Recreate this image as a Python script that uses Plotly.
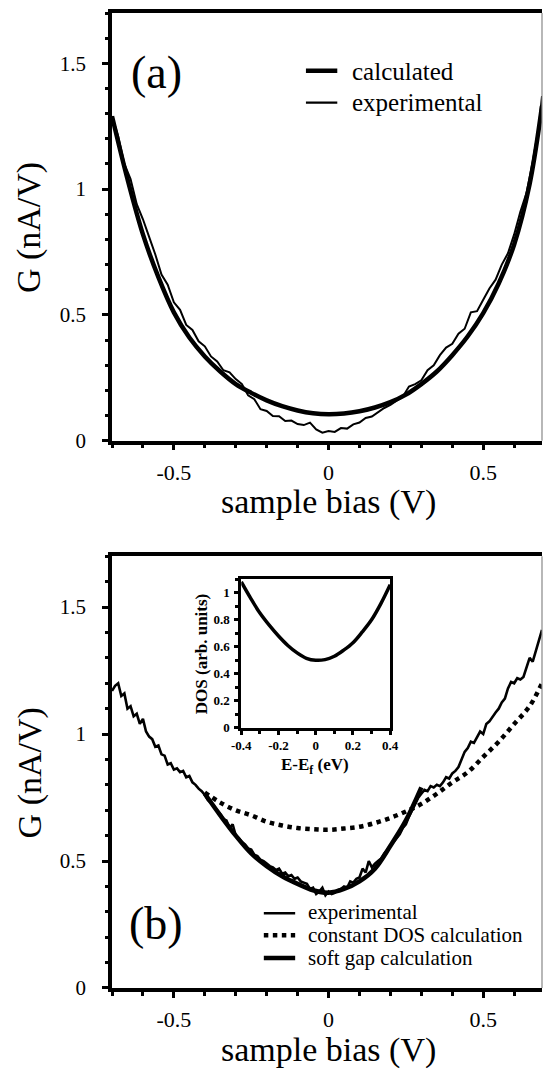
import plotly.graph_objects as go

# ---------------- data: panel (a) ----------------
bias_calc_a = [-0.70, -0.65, -0.60, -0.55, -0.50, -0.45, -0.40, -0.35, -0.30, -0.25,
               -0.20, -0.15, -0.10, -0.05, 0.00, 0.05, 0.10, 0.15, 0.20, 0.25,
               0.30, 0.35, 0.40, 0.45, 0.50, 0.55, 0.60, 0.65, 0.69]
g_calc_a = [1.29, 1.04, 0.82, 0.65, 0.51, 0.41, 0.335, 0.275, 0.225, 0.19,
            0.16, 0.137, 0.12, 0.109, 0.105, 0.108, 0.117, 0.132, 0.153, 0.183,
            0.225, 0.275, 0.34, 0.415, 0.507, 0.625, 0.78, 1.02, 1.33]

bias_exp_a = [-0.70, -0.68, -0.66, -0.64, -0.62, -0.60, -0.58, -0.56, -0.54, -0.52,
              -0.50, -0.48, -0.46, -0.44, -0.42, -0.40, -0.38, -0.36, -0.34, -0.32,
              -0.30, -0.28, -0.26, -0.24, -0.22, -0.20, -0.18, -0.16, -0.14, -0.12,
              -0.10, -0.08, -0.06, -0.04, -0.02, 0.00, 0.02, 0.04, 0.06, 0.08,
              0.10, 0.12, 0.14, 0.16, 0.18, 0.20, 0.22, 0.24, 0.26, 0.28,
              0.30, 0.32, 0.34, 0.36, 0.38, 0.40, 0.42, 0.44, 0.46, 0.48,
              0.50, 0.52, 0.54, 0.56, 0.58, 0.60, 0.62, 0.64, 0.66, 0.68, 0.69]
g_exp_a = [1.29, 1.21, 1.10, 1.04, 0.94, 0.88, 0.81, 0.74, 0.66, 0.62,
           0.55, 0.52, 0.46, 0.44, 0.395, 0.375, 0.335, 0.315, 0.28, 0.272,
           0.245, 0.225, 0.18, 0.165, 0.125, 0.118, 0.098, 0.097, 0.078, 0.080,
           0.066, 0.062, 0.072, 0.045, 0.032, 0.038, 0.035, 0.050, 0.048, 0.065,
           0.072, 0.090, 0.096, 0.112, 0.130, 0.142, 0.158, 0.175, 0.215, 0.225,
           0.240, 0.280, 0.300, 0.340, 0.370, 0.385, 0.425, 0.445, 0.510, 0.515,
           0.560, 0.605, 0.640, 0.700, 0.745, 0.820, 0.910, 0.985, 1.110, 1.250, 1.370]

# ---------------- data: panel (b) ----------------
bias_exp_b = [-0.70, -0.69, -0.68, -0.67, -0.66, -0.65, -0.64, -0.63, -0.62, -0.61,
              -0.60, -0.59, -0.58, -0.57, -0.56, -0.55, -0.54, -0.53, -0.52, -0.51,
              -0.50, -0.49, -0.48, -0.47, -0.46, -0.45, -0.44, -0.43, -0.42, -0.41,
              -0.40, -0.39, -0.38, -0.37, -0.36, -0.35, -0.34, -0.33, -0.32, -0.31,
              -0.30, -0.29, -0.28, -0.27, -0.26, -0.25, -0.24, -0.23, -0.22, -0.21,
              -0.20, -0.19, -0.18, -0.17, -0.16, -0.15, -0.14, -0.13, -0.12, -0.11,
              -0.10, -0.09, -0.08, -0.07, -0.06, -0.05, -0.04, -0.03, -0.02, -0.01,
              0.00, 0.01, 0.02, 0.03, 0.04, 0.05, 0.06, 0.07, 0.08, 0.09,
              0.10, 0.11, 0.12, 0.13, 0.14, 0.15, 0.16, 0.17, 0.18, 0.19,
              0.20, 0.21, 0.22, 0.23, 0.24, 0.25, 0.26, 0.27, 0.28, 0.29,
              0.30, 0.31, 0.32, 0.33, 0.34, 0.35, 0.36, 0.37, 0.38, 0.39,
              0.40, 0.41, 0.42, 0.43, 0.44, 0.45, 0.46, 0.47, 0.48, 0.49,
              0.50, 0.51, 0.52, 0.53, 0.54, 0.55, 0.56, 0.57, 0.58, 0.59,
              0.60, 0.61, 0.62, 0.63, 0.64, 0.65, 0.66, 0.67, 0.68, 0.69]
g_exp_b = [1.17, 1.19, 1.20, 1.15, 1.16, 1.10, 1.11, 1.07, 1.08, 1.04,
           1.06, 1.01, 0.99, 0.98, 0.95, 0.955, 0.92, 0.915, 0.88, 0.885,
           0.86, 0.865, 0.85, 0.855, 0.83, 0.835, 0.81, 0.80, 0.785, 0.775,
           0.76, 0.74, 0.73, 0.715, 0.70, 0.685, 0.665, 0.66, 0.63, 0.645,
           0.60, 0.59, 0.575, 0.565, 0.55, 0.545, 0.525, 0.52, 0.505, 0.50,
           0.49, 0.48, 0.475, 0.465, 0.47, 0.45, 0.455, 0.44, 0.445, 0.43,
           0.435, 0.42, 0.415, 0.41, 0.39, 0.395, 0.37, 0.38, 0.395, 0.365,
           0.38, 0.37, 0.375, 0.385, 0.39, 0.40, 0.395, 0.42, 0.415, 0.43,
           0.435, 0.47, 0.455, 0.50, 0.475, 0.49, 0.50, 0.51, 0.53, 0.545,
           0.56, 0.575, 0.59, 0.605, 0.63, 0.645, 0.675, 0.70, 0.72, 0.75,
           0.765, 0.78, 0.775, 0.795, 0.79, 0.80, 0.795, 0.81, 0.83, 0.825,
           0.845, 0.855, 0.87, 0.90, 0.93, 0.945, 0.97, 0.965, 0.99, 1.01,
           1.00, 1.04, 1.05, 1.07, 1.085, 1.10, 1.125, 1.14, 1.18, 1.205,
           1.20, 1.22, 1.215, 1.225, 1.26, 1.30, 1.285, 1.33, 1.37, 1.41]

bias_const = [-0.40, -0.35, -0.30, -0.25, -0.20, -0.15, -0.10, -0.05, 0.00, 0.05,
              0.10, 0.15, 0.20, 0.25, 0.30, 0.35, 0.40, 0.45, 0.50, 0.55,
              0.60, 0.65, 0.69]
g_const = [0.77, 0.73, 0.70, 0.68, 0.655, 0.64, 0.63, 0.625, 0.623, 0.628,
           0.635, 0.65, 0.67, 0.695, 0.725, 0.765, 0.81, 0.85, 0.91, 0.97,
           1.04, 1.11, 1.20]

bias_soft = [-0.40, -0.35, -0.30, -0.25, -0.20, -0.15, -0.10, -0.05, 0.00, 0.05,
             0.10, 0.15, 0.20, 0.25, 0.30]
g_soft = [0.765, 0.68, 0.60, 0.53, 0.48, 0.44, 0.41, 0.385, 0.375, 0.39,
          0.42, 0.47, 0.56, 0.66, 0.79]

# inset: DOS
energy = [-0.40, -0.35, -0.30, -0.25, -0.20, -0.15, -0.10, -0.05, 0.00,
          0.05, 0.10, 0.15, 0.20, 0.25, 0.30, 0.35, 0.40]
dos = [1.08, 0.96, 0.85, 0.76, 0.68, 0.61, 0.555, 0.515, 0.50,
       0.505, 0.53, 0.575, 0.63, 0.71, 0.80, 0.92, 1.06]

main_xticks = [-0.5, 0, 0.5]
main_xticktext = ["-0.5", "0", "0.5"]
main_yticks = [0, 0.5, 1, 1.5]
main_yticktext = ["0", "0.5", "1", "1.5"]
inset_xticks = [-0.4, -0.2, 0, 0.2, 0.4]
inset_xticktext = ["-0.4", "-0.2", "0", "0.2", "0.4"]
inset_yticks = [0, 0.2, 0.4, 0.6, 0.8, 1]
inset_yticktext = ["0", "0.2", "0.4", "0.6", "0.8", "1"]

SERIF = "Times New Roman, Liberation Serif, serif"
# page body has an 8px margin: the figure is laid out 8px in from the window corner
OFF = 8
W, H = 544, 1066
ML, MR, MT, MB = 104, 1, 2, 86
PW = W - ML - MR
PH = H - MT - MB


def px(x):
    return (x - OFF - ML) / PW


def py(y):
    return (H - MB - (y - OFF)) / PH


top_dom = [py(439), 1.0]
bot_dom = [0.0, py(555)]

fig = go.Figure()

# panel (a)
fig.add_trace(go.Scatter(x=bias_exp_a, y=g_exp_a, mode="lines", xaxis="x", yaxis="y",
                         line=dict(color="black", width=2), showlegend=False))
fig.add_trace(go.Scatter(x=bias_calc_a, y=g_calc_a, mode="lines", xaxis="x", yaxis="y",
                         line=dict(color="black", width=4.5, shape="spline"), showlegend=False))
# panel (b)
fig.add_trace(go.Scatter(x=bias_exp_b, y=g_exp_b, mode="lines", xaxis="x2", yaxis="y2",
                         line=dict(color="black", width=2.6), showlegend=False))
fig.add_trace(go.Scatter(x=bias_const, y=g_const, mode="lines", xaxis="x2", yaxis="y2",
                         line=dict(color="black", width=4.5, dash="dot", shape="spline"),
                         showlegend=False))
fig.add_trace(go.Scatter(x=bias_soft, y=g_soft, mode="lines", xaxis="x2", yaxis="y2",
                         line=dict(color="black", width=4.5, shape="spline"), showlegend=False))
# inset
fig.add_trace(go.Scatter(x=energy, y=dos, mode="lines", xaxis="x3", yaxis="y3",
                         line=dict(color="black", width=3.5, shape="spline"), showlegend=False))

xtickfont = dict(family=SERIF, size=22, color="black")
ytickfont = dict(family=SERIF, size=21, color="black")


def main_x(anchor):
    return dict(range=[-0.7, 0.69], anchor=anchor, domain=[0, 1],
                showline=True, linewidth=3.5, linecolor="black", mirror=True,
                showgrid=False, zeroline=False, ticks="outside", ticklen=6, tickwidth=3,
                tickcolor="black", tickmode="array", tickvals=main_xticks,
                ticktext=main_xticktext, tickfont=xtickfont, ticklabelstandoff=3,
                minor=dict(tickmode="linear", tick0=0, dtick=0.1, ticks="outside",
                           ticklen=4, tickwidth=3, tickcolor="black", showgrid=False))


def main_y(domain, anchor):
    return dict(range=[0, 1.7], anchor=anchor, domain=domain,
                showline=True, linewidth=3.5, linecolor="black", mirror=False,
                showgrid=False, zeroline=False, ticks="outside", ticklen=6, tickwidth=3,
                tickcolor="black", tickmode="array", tickvals=main_yticks,
                ticktext=main_yticktext, tickfont=ytickfont, ticklabelstandoff=12,
                minor=dict(tickmode="linear", tick0=0, dtick=0.1, ticks="outside",
                           ticklen=3, tickwidth=3, tickcolor="black", showgrid=False))


inset_font = dict(family=SERIF, size=13, color="black", weight="bold")

fig.update_layout(
    width=W, height=H,
    margin=dict(l=ML, r=MR, t=MT, b=MB),
    paper_bgcolor="white", plot_bgcolor="rgba(0,0,0,0)",
    showlegend=False,
    xaxis=main_x("y"),
    yaxis=main_y(top_dom, "x"),
    xaxis2=main_x("y2"),
    yaxis2=main_y(bot_dom, "x2"),
    xaxis3=dict(range=[-0.4, 0.4], anchor="y3", domain=[px(244), px(396)],
                showline=True, linewidth=3, linecolor="black", mirror=True,
                showgrid=False, zeroline=False, ticks="outside", ticklen=4, tickwidth=2.5,
                tickcolor="black", tickmode="array", tickvals=inset_xticks,
                ticktext=inset_xticktext, tickfont=inset_font,
                minor=dict(tickmode="linear", tick0=0, dtick=0.1, ticks="outside",
                           ticklen=3, tickwidth=2.5, tickcolor="black", showgrid=False)),
    yaxis3=dict(range=[0, 1.1], anchor="x3", domain=[py(727), py(578)],
                showline=True, linewidth=3, linecolor="black", mirror=True,
                showgrid=False, zeroline=False, ticks="outside", ticklen=4, tickwidth=2.5,
                tickcolor="black", tickmode="array", tickvals=inset_yticks,
                ticktext=inset_yticktext, tickfont=inset_font, ticklabelstandoff=2,
                minor=dict(tickmode="linear", tick0=0, dtick=0.1, ticks="outside",
                           ticklen=3, tickwidth=2.5, tickcolor="black", showgrid=False)),
)

LEG_B = [912, 935, 958]

shapes = []
# thin right borders
for dom in (top_dom, bot_dom):
    shapes.append(dict(type="line", xref="paper", yref="paper", x0=1, x1=1,
                       y0=dom[0], y1=dom[1], line=dict(color="#888888", width=1.2)))
# legend samples panel (a)
shapes.append(dict(type="line", xref="paper", yref="paper", x0=px(310), x1=px(342),
                   y0=py(68), y1=py(68), line=dict(color="black", width=4.5)))
shapes.append(dict(type="line", xref="paper", yref="paper", x0=px(310), x1=px(342),
                   y0=py(100), y1=py(100), line=dict(color="black", width=2.2)))
# legend samples panel (b)
shapes.append(dict(type="line", xref="paper", yref="paper", x0=px(267), x1=px(299),
                   y0=py(LEG_B[0] + 1), y1=py(LEG_B[0] + 1), line=dict(color="black", width=2.4)))
shapes.append(dict(type="line", xref="paper", yref="paper", x0=px(267), x1=px(299),
                   y0=py(LEG_B[1]), y1=py(LEG_B[1]), line=dict(color="black", width=4.5, dash="dot")))
shapes.append(dict(type="line", xref="paper", yref="paper", x0=px(267), x1=px(299),
                   y0=py(LEG_B[2]), y1=py(LEG_B[2]), line=dict(color="black", width=4.5)))
fig.update_layout(shapes=shapes)

ann = []


def text(x, y, s, size, xanchor="center", angle=0, bold=False):
    f = dict(family=SERIF, size=size, color="black")
    if bold:
        f["weight"] = "bold"
    ann.append(dict(xref="paper", yref="paper", x=px(x), y=py(y), text=s, showarrow=False,
                    xanchor=xanchor, yanchor="middle", textangle=angle, font=f,
                    borderpad=0))


text(333, 501, "sample bias (V)", 34)
text(333, 1050, "sample bias (V)", 34)
text(28, 225, "G (nA/V)", 34, angle=-90)
text(28, 772, "G (nA/V)", 34, angle=-90)
text(157, 70, "(a)", 46)
text(157, 923, "(b)", 46)
text(356, 69, "calculated", 25, xanchor="left")
text(356, 100, "experimental", 25, xanchor="left")
text(311, LEG_B[0], "experimental", 21, xanchor="left")
text(311, LEG_B[1], "constant DOS calculation", 21, xanchor="left")
text(311, LEG_B[2], "soft gap calculation", 21, xanchor="left")
text(319, 765, "E-E<sub>f</sub> (eV)", 17, bold=True)
text(203, 653, "DOS (arb. units)", 17, angle=-90, bold=True)
fig.update_layout(annotations=ann)

fig.write_html("out.html")
